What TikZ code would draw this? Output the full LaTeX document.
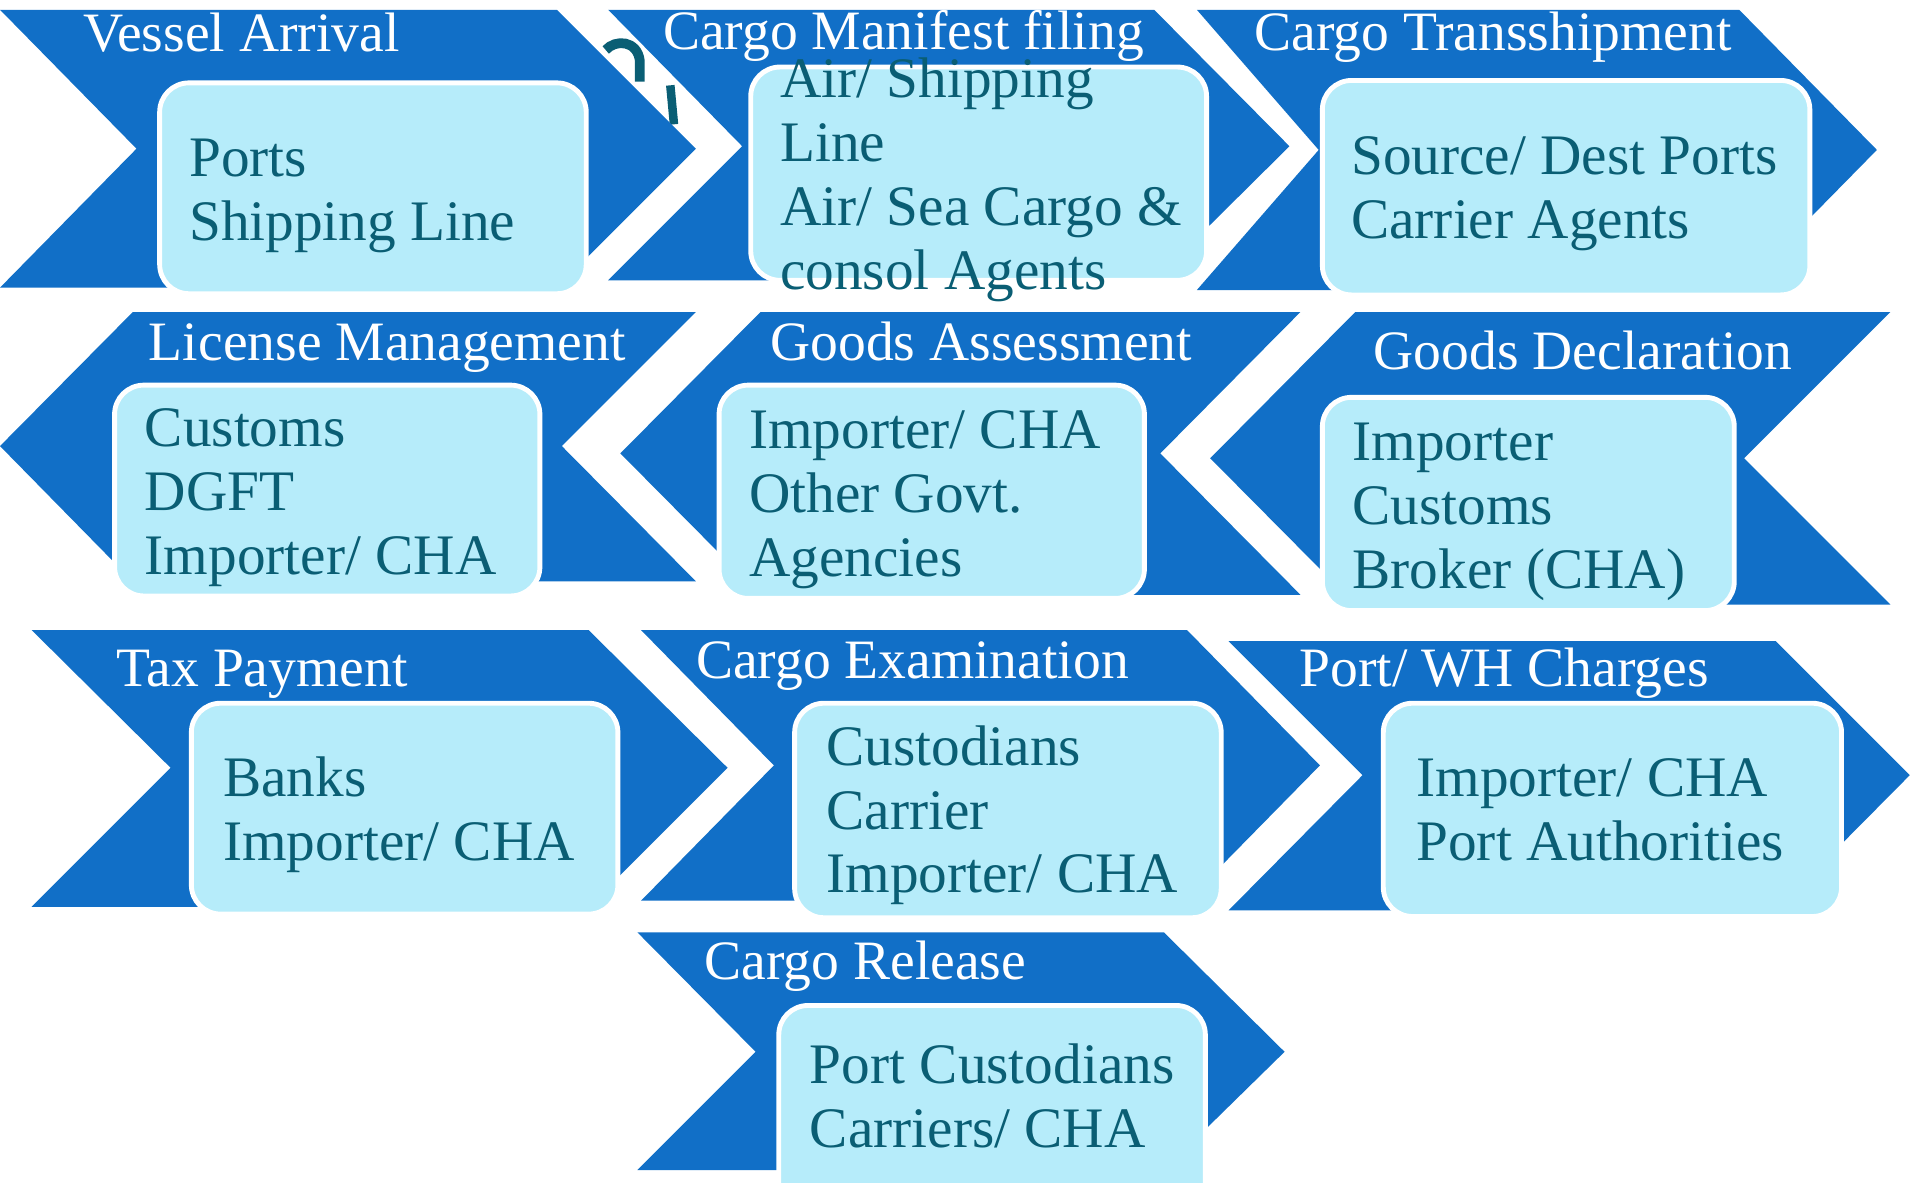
\documentclass[tikz,border=0pt]{standalone}
\usepackage{fontspec}
\setmainfont{Liberation Serif}
\usetikzlibrary{positioning}

\definecolor{chevblue}{RGB}{17,111,199}
\definecolor{boxcyan}{RGB}{182,236,250}
\definecolor{deepteal}{RGB}{10,94,116}
\newcommand{\fstrut}{\rule{0pt}{38pt}}

\begin{document}
\begin{tikzpicture}[x=1pt, y=-1pt,
        chev/.style={fill=chevblue},
        pbox/.style={rectangle, draw=white, line width=4pt, fill=boxcyan, rounded corners=24pt, anchor=north west, inner sep=0pt},
        stage/.style={anchor=base west, inner sep=0pt, text=white, font=\fontsize{45.6}{52}\selectfont},
        who/.style={anchor=north west, inner sep=0pt, align=left, text=deepteal, font=\fontsize{47}{52.5}\selectfont}
    ]

    \useasboundingbox (0,0) rectangle (1568,970);

    % stray marks behind the first row
    \draw[deepteal, line width=8pt] (497,41) .. controls (505,32) and (523,33) .. (525,50) -- (525,67);
    \draw[deepteal, line width=7pt] (550,70) -- (553,102);

    % Chevrons
    \fill[chev] (0,8) -- (457,8) -- (571,122) -- (457,236) -- (0,236) -- (112,122) -- cycle;
    \fill[chev] (499,8) -- (947,8) -- (1058,120) -- (947,230) -- (499,230) -- (609,120) -- cycle;
    \fill[chev] (982,8) -- (1427,8) -- (1540,123) -- (1427,238) -- (982,238) -- (1082,123) -- cycle;
    \fill[chev] (109,256) -- (571,256) -- (461,366) -- (571,477) -- (109,477) -- (0,366) -- cycle;
    \fill[chev] (624,256) -- (1067,256) -- (952,372) -- (1067,488) -- (624,488) -- (509,372) -- cycle;
    \fill[chev] (1112,256) -- (1551,256) -- (1431,376) -- (1551,496) -- (1112,496) -- (993,376) -- cycle;
    \fill[chev] (26,517) -- (483,517) -- (597,630) -- (483,744) -- (26,744) -- (140,630) -- cycle;
    \fill[chev] (526,517) -- (974,517) -- (1083,628) -- (974,739) -- (526,739) -- (635,628) -- cycle;
    \fill[chev] (1008,526) -- (1457,526) -- (1567,636) -- (1457,747) -- (1008,747) -- (1118,636) -- cycle;
    \fill[chev] (523,765) -- (955,765) -- (1054,863) -- (955,960) -- (523,960) -- (620,863) -- cycle;

    % Boxes
    \node[pbox, minimum width=350pt, minimum height=173pt] (arrbox) at (129,66) {};
    \node[pbox, minimum width=374pt, minimum height=175pt] (manbox) at (614,53) {};
    \node[pbox, minimum width=400pt, minimum height=176pt] (trsbox) at (1083,64) {};
    \node[pbox, minimum width=349pt, minimum height=173pt] (licbox) at (92,314) {};
    \node[pbox, minimum width=349pt, minimum height=175pt] (assbox) at (588,314) {};
    \node[pbox, minimum width=338pt, minimum height=175pt] (decbox) at (1083,324) {};
    \node[pbox, minimum width=350pt, minimum height=173pt] (taxbox) at (155,575) {};
    \node[pbox, minimum width=350pt, minimum height=176pt] (exmbox) at (650,575) {};
    \node[pbox, minimum width=376pt, minimum height=175pt] (chgbox) at (1133,575) {};
    \node[pbox, minimum width=350pt, minimum height=177pt] (relbox) at (637,823) {};

    % Stage titles
    \node[stage] (arrival) at (68,42.5) {Vessel Arrival};
    \node[stage] (manifest) at (544,41) {Cargo Manifest filing};
    \node[stage] (tranship) at (1029,41.6) {Cargo Transshipment};
    \node[stage] (license) at (122,295.5) {License Management};
    \node[stage] (assess) at (632,296) {Goods Assessment};
    \node[stage] (declare) at (1127,303) {Goods Declaration};
    \node[stage] (tax) at (95.5,563.5) {Tax Payment};
    \node[stage] (exam) at (571,556.5) {Cargo Examination};
    \node[stage] (charges) at (1066,563) {Port/ WH Charges};
    \node[stage] (release) at (578,804) {Cargo Release};

    % Parties
    \node[who] (arrwho) at (155,107) {\fstrut Ports\\Shipping Line};
    \node[who] (manwho) at (640,42) {\fstrut Air/ Shipping\\Line\\Air/ Sea Cargo \&\\consol Agents};
    \node[who] (trswho) at (1108.5,105) {\fstrut Source/ Dest Ports\\Carrier Agents};
    \node[who] (licwho) at (118.7,328.5) {\fstrut Customs\\DGFT\\Importer/ CHA};
    \node[who] (asswho) at (614.5,330) {\fstrut Importer/ CHA\\Other Govt.\\Agencies};
    \node[who] (decwho) at (1109.7,339.5) {\fstrut Importer\\Customs\\Broker (CHA)};
    \node[who] (taxwho) at (183,615.5) {\fstrut Banks\\Importer/ CHA};
    \node[who] (exmwho) at (678,589.5) {\fstrut Custodians\\Carrier\\Importer/ CHA};
    \node[who] (chgwho) at (1162,615.5) {\fstrut Importer/ CHA\\Port Authorities};
    \node[who] (relwho) at (664.4,851) {\fstrut Port Custodians\\Carriers/ CHA};

\end{tikzpicture}
\end{document}
